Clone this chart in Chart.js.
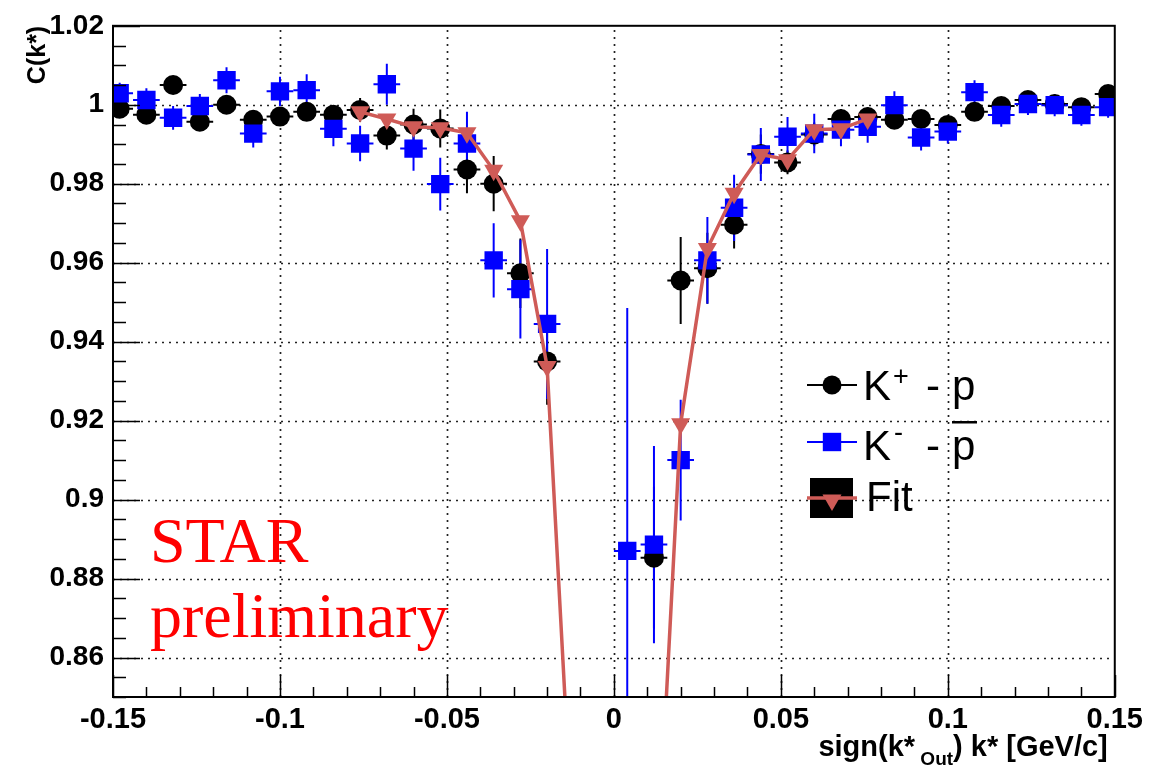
<!DOCTYPE html>
<html>
<head>
<meta charset="utf-8">
<script src="https://cdn.jsdelivr.net/npm/chart.js@4.4.1/dist/chart.umd.min.js"></script>
<style>
  html, body { margin: 0; padding: 0; background: #fff; }
</style>
</head>
<body>
<canvas id="myChart" width="1149" height="769"></canvas>
<script>
// bin centres, sign(k*_Out) k* [GeV/c]
const kStar = [-0.148, -0.140, -0.132, -0.124, -0.116, -0.108, -0.100, -0.092, -0.084, -0.076,
               -0.068, -0.060, -0.052, -0.044, -0.036, -0.028, -0.020, -0.012, -0.004,
                0.004,  0.012,  0.020,  0.028,  0.036,  0.044,  0.052,  0.060,  0.068,
                0.076,  0.084,  0.092,  0.100,  0.108,  0.116,  0.124,  0.132,  0.140, 0.148];

// K+ - p
const kPlusP = [0.9990, 0.9975, 1.0050, 0.9957, 1.0000, 0.9962, 0.9970, 0.9982, 0.9975, 0.9987,
                0.9922, 0.9950, 0.9940, 0.9836, 0.9800, 0.9573, 0.9350, null, null,
                null, 0.8853, 0.9555, 0.9586, 0.9696, 0.9875, 0.9854, 0.9925, 0.9964,
                0.9969, 0.9962, 0.9964, 0.9949, 0.9982, 0.9997, 1.0012, 1.0002, 0.9994, 1.0027];
const kPlusPErr = [0.0015, 0.0015, 0.0015, 0.0015, 0.0015, 0.0015, 0.0020, 0.0020, 0.0020, 0.0030,
                   0.0035, 0.0040, 0.0048, 0.0060, 0.0070, 0.0088, 0.0110, 0, 0,
                   0, 0.0180, 0.0110, 0.0090, 0.0060, 0.0050, 0.0030, 0.0030, 0.0025,
                   0.0025, 0.0020, 0.0020, 0.0020, 0.0015, 0.0015, 0.0015, 0.0015, 0.0015, 0.0015];

// K- - pbar
const kMinusPbar = [1.0029, 1.0012, 0.9967, 0.9997, 1.0062, 0.9927, 1.0034, 1.0037, 0.9939, 0.9902,
                    1.0052, 0.9889, 0.9799, 0.9902, 0.9606, 0.9533, 0.9445, null, null,
                    0.8870, 0.8886, 0.9100, 0.9606, 0.9739, 0.9874, 0.9919, 0.9927, 0.9937,
                    0.9944, 0.9999, 0.9917, 0.9932, 1.0032, 0.9974, 1.0002, 0.9999, 0.9974, 0.9994];
const kMinusPbarErr = [0.0027, 0.0030, 0.0030, 0.0030, 0.0033, 0.0035, 0.0037, 0.0040, 0.0044, 0.0045,
                       0.0052, 0.0056, 0.0067, 0.0080, 0.0094, 0.0125, 0.0190, 0, 0,
                       0.0615, 0.0250, 0.0153, 0.0110, 0.0084, 0.0067, 0.0050, 0.0050, 0.0042,
                       0.0040, 0.0035, 0.0033, 0.0030, 0.0030, 0.0030, 0.0028, 0.0028, 0.0027, 0.0027];

// fit curve
const fitK = [-0.076, -0.068, -0.060, -0.052, -0.044, -0.036, -0.028, -0.020, -0.012,
               0.012,  0.020,  0.028,  0.036,  0.044,  0.052,  0.060,  0.068,  0.076];
const fitC = [0.9982, 0.9964, 0.9944, 0.9942, 0.9929, 0.9834, 0.9706, 0.9337, 0.808,
              0.790,  0.9192, 0.9636, 0.9776, 0.9874, 0.9861, 0.9937, 0.9939, 0.9964];
const fitShown = [1, 1, 1, 1, 1, 1, 1, 1, 0, 0, 1, 1, 1, 1, 1, 1, 1, 1];

const xTickLabels = [-0.15, -0.1, -0.05, 0, 0.05, 0.1, 0.15];
const yTickLabels = [0.86, 0.88, 0.9, 0.92, 0.94, 0.96, 0.98, 1, 1.02];
const binHalf = 0.004;

const pts = (xs, ys) => xs.map((x, i) => ({ x: x, y: ys[i] })).filter((p) => p.y !== null);

const sans = "'Liberation Sans', Arial, sans-serif";
const red = '#cf5b57';

function drawErrors(ctx, sx, sy, vals, errs, color) {
    ctx.strokeStyle = color;
    ctx.lineWidth = 2;
    kStar.forEach((k, i) => {
        if (vals[i] === null) return;
        const px = sx.getPixelForValue(k);
        const py = sy.getPixelForValue(vals[i]);
        ctx.beginPath();
        ctx.moveTo(sx.getPixelForValue(k - binHalf), py);
        ctx.lineTo(sx.getPixelForValue(k + binHalf), py);
        ctx.moveTo(px, sy.getPixelForValue(vals[i] - errs[i]));
        ctx.lineTo(px, sy.getPixelForValue(vals[i] + errs[i]));
        ctx.stroke();
    });
}

const rootStyle = {
    id: 'rootStyle',
    beforeDatasetsDraw(chart) {
        const { ctx, chartArea: a, scales: { x, y } } = chart;
        ctx.save();
        ctx.strokeStyle = '#222';
        ctx.lineWidth = 1.7;
        ctx.setLineDash([2, 5]);
        xTickLabels.forEach((v) => {
            if (Math.abs(v) > 0.149) return;
            const px = Math.round(x.getPixelForValue(v)) + 0.5;
            ctx.beginPath();
            ctx.moveTo(px, a.bottom);
            ctx.lineTo(px, a.top);
            ctx.stroke();
        });
        yTickLabels.forEach((v) => {
            if (v > 1.019) return;
            const py = Math.round(y.getPixelForValue(v)) + 0.5;
            ctx.beginPath();
            ctx.moveTo(a.left, py);
            ctx.lineTo(a.right, py);
            ctx.stroke();
        });
        ctx.setLineDash([]);
        ctx.beginPath();
        ctx.rect(a.left, a.top, a.width, a.height);
        ctx.clip();
        drawErrors(ctx, x, y, kPlusP, kPlusPErr, '#000');
        drawErrors(ctx, x, y, kMinusPbar, kMinusPbarErr, '#0000ff');
        ctx.restore();
    },
    afterDatasetsDraw(chart) {
        const { ctx, chartArea: a, scales: { x, y } } = chart;
        const h = Chart.helpers;
        ctx.save();

        // frame
        ctx.strokeStyle = '#000';
        ctx.lineWidth = 2;
        ctx.strokeRect(a.left, a.top, a.width, a.height);

        // ticks inside the frame
        ctx.lineWidth = 1.5;
        ctx.beginPath();
        for (let i = 0; i <= 34; i++) {
            const v = 0.85 + i * 0.005;
            const major = i % 4 === 2;
            const py = Math.round(y.getPixelForValue(v)) + 0.5;
            ctx.moveTo(a.left, py);
            ctx.lineTo(a.left + (major ? 27 : 13), py);
        }
        for (let i = -15; i <= 15; i++) {
            const px = Math.round(x.getPixelForValue(i * 0.01)) + 0.5;
            ctx.moveTo(px, a.bottom);
            ctx.lineTo(px, a.bottom - (i % 5 === 0 ? 22 : 10));
        }
        ctx.stroke();

        // axis titles
        ctx.fillStyle = '#000';
        ctx.font = 'bold 25px ' + sans;
        ctx.save();
        ctx.translate(45, a.top);
        ctx.rotate(-Math.PI / 2);
        ctx.textAlign = 'right';
        ctx.textBaseline = 'alphabetic';
        ctx.fillText('C(k*)', 0, 0);
        ctx.restore();

        ctx.textBaseline = 'alphabetic';
        ctx.textAlign = 'left';
        const t1 = 'sign(k*', t3 = ') k* [GeV/c]';
        ctx.font = 'bold 29px ' + sans;
        const w1 = ctx.measureText(t1).width, w3 = ctx.measureText(t3).width;
        ctx.font = 'bold 19px ' + sans;
        const w2 = ctx.measureText(' Out').width;
        let tx = a.right - 7 - w1 - w2 - w3;
        const ty = 756;
        ctx.font = 'bold 29px ' + sans;
        ctx.fillText(t1, tx, ty);
        tx += w1;
        ctx.font = 'bold 19px ' + sans;
        ctx.fillText(' Out', tx, ty + 9);
        tx += w2;
        ctx.font = 'bold 29px ' + sans;
        ctx.fillText(t3, tx, ty);

        // STAR preliminary
        ctx.fillStyle = '#ff0000';
        ctx.font = "64px 'Liberation Serif', 'Times New Roman', serif";
        ctx.fillText('STAR', 150, 562);
        ctx.fillText('preliminary', 150, 637);

        // legend
        const lx = 832;
        ctx.lineWidth = 2;
        ctx.strokeStyle = '#000';
        ctx.beginPath(); ctx.moveTo(807, 385); ctx.lineTo(857, 385); ctx.stroke();
        ctx.fillStyle = '#000';
        h.drawPoint(ctx, { pointStyle: 'circle', radius: 9.5, rotation: 0, borderWidth: 0 }, lx, 385);

        ctx.strokeStyle = '#0000ff';
        ctx.beginPath(); ctx.moveTo(807, 442); ctx.lineTo(857, 442); ctx.stroke();
        ctx.fillStyle = '#0000ff';
        h.drawPoint(ctx, { pointStyle: 'rect', radius: 13, rotation: 0, borderWidth: 0 }, lx, 442);

        ctx.fillStyle = '#000';
        ctx.fillRect(810, 478, 43, 40);
        ctx.strokeStyle = red;
        ctx.lineWidth = 3.5;
        ctx.beginPath(); ctx.moveTo(807, 498); ctx.lineTo(857, 498); ctx.stroke();
        ctx.fillStyle = red;
        h.drawPoint(ctx, { pointStyle: 'triangle', radius: 11, rotation: 180, borderWidth: 0 }, lx, 500);

        ctx.fillStyle = '#000';
        ctx.font = '42px ' + sans;
        ctx.fillText('K', 863, 400);
        ctx.fillText('-', 926, 400);
        ctx.fillText('p', 952, 400);
        ctx.fillText('K', 863, 460);
        ctx.fillText('-', 926, 460);
        ctx.fillText('p', 952, 460);
        ctx.fillText('Fit', 866, 511);
        ctx.font = '27px ' + sans;
        ctx.fillText('+', 893, 385);
        ctx.fillText('-', 894, 441);
        ctx.fillRect(952, 421, 25, 2.5);

        ctx.restore();
    }
};

const data = {
    datasets: [
        {
            label: 'Fit',
            type: 'line',
            data: pts(fitK, fitC),
            borderColor: red,
            backgroundColor: red,
            borderWidth: 3.5,
            pointStyle: 'triangle',
            rotation: 180,
            pointRadius: fitShown.map((s) => (s ? 11 : 0)),
            pointBorderWidth: 0,
            tension: 0,
        },
        {
            label: 'K- - pbar',
            type: 'scatter',
            data: pts(kStar, kMinusPbar),
            backgroundColor: '#0000ff',
            pointStyle: 'rect',
            pointRadius: 13,
            pointBorderWidth: 0,
        },
        {
            label: 'K+ - p',
            type: 'scatter',
            data: pts(kStar, kPlusP),
            backgroundColor: '#000',
            pointStyle: 'circle',
            pointRadius: 10,
            pointBorderWidth: 0,
        },
    ],
};

const options = {
    responsive: false,
    animation: false,
    devicePixelRatio: 1,
    layout: { padding: { top: 18, right: 34, left: 0, bottom: 0 } },
    plugins: {
        legend: { display: false },
        tooltip: { enabled: false },
    },
    scales: {
        x: {
            type: 'linear',
            min: -0.15,
            max: 0.15,
            afterBuildTicks: (scale) => { scale.ticks = xTickLabels.map((v) => ({ value: v })); },
            afterFit: (scale) => { scale.height = 72; },
            grid: { display: false, drawTicks: false },
            border: { display: false },
            ticks: {
                color: '#000',
                padding: 6,
                maxRotation: 0,
                autoSkip: false,
                font: { family: sans, size: 29, weight: 'bold' },
                callback: (v) => String(+v.toFixed(3)),
            },
        },
        y: {
            type: 'linear',
            min: 0.85,
            max: 1.02,
            afterBuildTicks: (scale) => { scale.ticks = yTickLabels.map((v) => ({ value: v })); },
            afterFit: (scale) => { scale.width = 113; },
            grid: { display: false, drawTicks: false },
            border: { display: false },
            ticks: {
                color: '#000',
                padding: 9,
                font: { family: sans, size: 28, weight: 'bold' },
                callback: (v) => String(+v.toFixed(3)),
            },
        },
    },
};

new Chart('myChart', { type: 'scatter', data, options, plugins: [rootStyle] });
</script>
</body>
</html>
